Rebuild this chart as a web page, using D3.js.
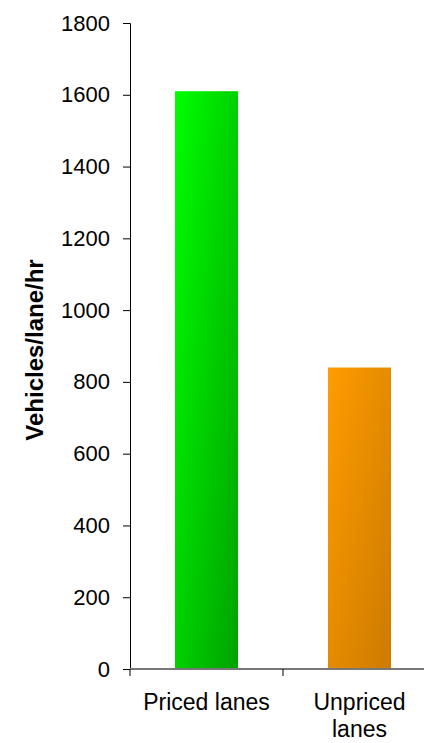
<!DOCTYPE html>
<html>
<head>
<meta charset="utf-8">
<script src="https://cdn.jsdelivr.net/npm/d3@7"></script>
<style>
  html, body { margin: 0; padding: 0; background: #fff; }
  svg { display: block; font-family: "Liberation Sans", Arial, sans-serif; }
</style>
</head>
<body>
<svg id="chart" width="424" height="743"></svg>
<script>
const categories = ["Priced lanes", "Unpriced lanes"];
const values = [1610, 840];
const yTicks = [0, 200, 400, 600, 800, 1000, 1200, 1400, 1600, 1800];
const yLabel = "Vehicles/lane/hr";
const gradients = [["#00ff00", "#00a200"], ["#ff9c00", "#cc7a00"]];

const svg = d3.select("#chart");
const y = d3.scaleLinear().domain([0, 1800]).range([669, 23]);
const x = d3.scaleBand().domain(categories).range([130, 436])
  .paddingInner(0.588).paddingOuter(0.294);

const defs = svg.append("defs");
categories.forEach((c, i) => {
  const g = defs.append("linearGradient").attr("id", "g" + i)
    .attr("x1", 0).attr("y1", 0).attr("x2", 1).attr("y2", 1);
  g.append("stop").attr("offset", 0).attr("stop-color", gradients[i][0]);
  g.append("stop").attr("offset", 1).attr("stop-color", gradients[i][1]);
});

// bars
svg.selectAll("rect.bar").data(categories).enter().append("rect")
  .attr("class", "bar")
  .attr("x", d => x(d))
  .attr("width", x.bandwidth())
  .attr("y", (d, i) => y(values[i]))
  .attr("height", (d, i) => y(0) - y(values[i]))
  .attr("fill", (d, i) => `url(#g${i})`);

// y axis
const yAxis = d3.axisLeft(y).tickValues(yTicks).tickSize(7).tickPadding(13).tickFormat(d3.format("d"));
const ya = svg.append("g").attr("transform", "translate(130,0)").call(yAxis);
ya.select(".domain").attr("stroke", "#000").attr("stroke-width", 1);
ya.selectAll(".tick line").attr("stroke", "#000");
ya.selectAll(".tick text").attr("font-size", 22).attr("fill", "#000")
  .attr("font-family", "Liberation Sans, Arial, sans-serif");

// x axis line and boundary ticks
const step = x.step();
const halfGap = x.paddingInner() * step / 2;
svg.append("line").attr("x1", 130).attr("x2", 436)
  .attr("y1", y(0)).attr("y2", y(0))
  .attr("stroke", "#777").attr("stroke-width", 2);
const bounds = categories.map(c => x(c) - halfGap).concat([x(categories[categories.length - 1]) + x.bandwidth() + halfGap]);
svg.selectAll("line.xt").data(bounds).enter().append("line")
  .attr("class", "xt")
  .attr("x1", d => d).attr("x2", d => d)
  .attr("y1", y(0)).attr("y2", y(0) + 7)
  .attr("stroke", "#000").attr("stroke-width", 1);

// category labels (wrapped)
const lab = svg.selectAll("text.cat").data(categories).enter().append("text")
  .attr("class", "cat")
  .attr("text-anchor", "middle")
  .attr("font-size", 23)
  .attr("fill", "#000")
  .attr("x", d => x(d) + x.bandwidth() / 2)
  .attr("y", 710);
lab.each(function(d) {
  const t = d3.select(this);
  const words = d.split(" ");
  let line = [];
  let tspan = t.append("tspan").attr("x", t.attr("x")).attr("dy", 0);
  const maxW = step - 10;
  words.forEach(w => {
    line.push(w);
    tspan.text(line.join(" "));
    if (tspan.node().getComputedTextLength() > maxW && line.length > 1) {
      line.pop();
      tspan.text(line.join(" "));
      line = [w];
      tspan = t.append("tspan").attr("x", t.attr("x")).attr("dy", 27).text(w);
    }
  });
});

// y label
svg.append("text")
  .attr("transform", "translate(43,350) rotate(-90)")
  .attr("text-anchor", "middle")
  .attr("font-size", 24)
  .attr("font-weight", "bold")
  .attr("fill", "#000")
  .text(yLabel);
</script>
</body>
</html>
